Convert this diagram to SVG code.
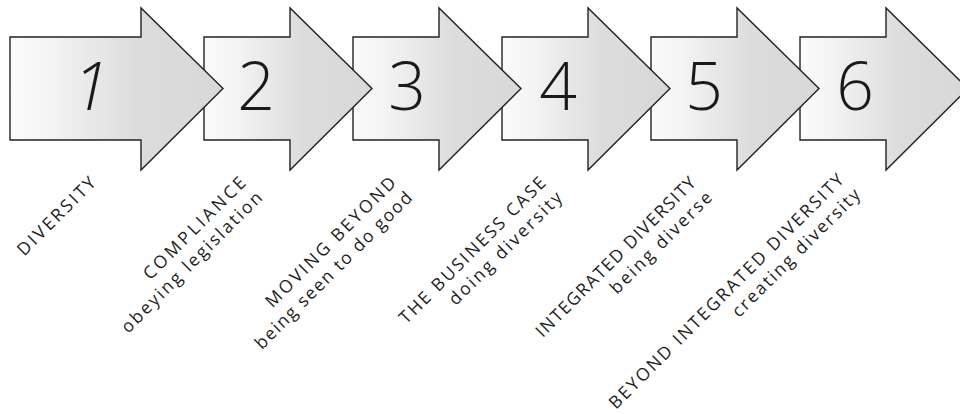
<svg xmlns="http://www.w3.org/2000/svg" width="960" height="414" viewBox="0 0 960 414">
<defs>
<linearGradient id="g" x1="0" y1="0" x2="1" y2="0">
<stop offset="0" stop-color="#fbfbfb"/>
<stop offset="0.2" stop-color="#f3f3f3"/>
<stop offset="0.6" stop-color="#dcdcdc"/>
<stop offset="1" stop-color="#d8d8d8"/>
</linearGradient>
</defs>
<style>
.arrow{fill:url(#g);stroke:#222;stroke-width:1.4;stroke-linejoin:miter}
.num{font-family:"Open Sans","Liberation Sans",sans-serif;font-weight:300;font-size:66px;fill:#1a1a1a;text-anchor:middle}
.lbl{font-family:"Open Sans","Liberation Sans",sans-serif;font-weight:500;font-size:17.5px;fill:#1e1e1e;text-anchor:end}
</style>
<rect width="960" height="414" fill="#fff"/>
<g id="step6">
<polygon class="arrow" points="800,37 886,37 886,8 968,88.5 886,170 886,140 800,140"/>
<text class="num" x="855" y="110">6</text>
<g transform="translate(845,181) rotate(-45)">
<text class="lbl" x="0" y="0" textLength="324" lengthAdjust="spacing">BEYOND INTEGRATED DIVERSITY</text>
<text class="lbl" x="1" y="22" textLength="173" lengthAdjust="spacing">creating diversity</text>
</g>
</g>
<g id="step5">
<polygon class="arrow" points="651,37 737,37 737,8 819,88.5 737,170 737,140 651,140"/>
<text class="num" x="704" y="110">5</text>
<g transform="translate(697,184) rotate(-45)">
<text class="lbl" x="0" y="0" textLength="218" lengthAdjust="spacing">INTEGRATED DIVERSITY</text>
<text class="lbl" x="1" y="22" textLength="136" lengthAdjust="spacing">being diverse</text>
</g>
</g>
<g id="step4">
<polygon class="arrow" points="502,37 588,37 588,8 670,88.5 588,170 588,140 502,140"/>
<text class="num" x="558" y="110">4</text>
<g transform="translate(547,184) rotate(-45)">
<text class="lbl" x="0" y="0" textLength="199" lengthAdjust="spacing">THE BUSINESS CASE</text>
<text class="lbl" x="1" y="22" textLength="152" lengthAdjust="spacing">doing diversity</text>
</g>
</g>
<g id="step3">
<polygon class="arrow" points="353,37 439,37 439,8 521,88.5 439,170 439,140 353,140"/>
<text class="num" x="407" y="110">3</text>
<g transform="translate(397,184) rotate(-45)">
<text class="lbl" x="0" y="0" textLength="176" lengthAdjust="spacing">MOVING BEYOND</text>
<text class="lbl" x="1" y="22" textLength="214" lengthAdjust="spacing">being seen to do good</text>
</g>
</g>
<g id="step2">
<polygon class="arrow" points="204,37 290,37 290,8 372,88.5 290,170 290,140 204,140"/>
<text class="num" x="256" y="110">2</text>
<g transform="translate(247,184) rotate(-45)">
<text class="lbl" x="0" y="0" textLength="137" lengthAdjust="spacing">COMPLIANCE</text>
<text class="lbl" x="1" y="22" textLength="191" lengthAdjust="spacing">obeying legislation</text>
</g>
</g>
<g id="step1">
<polygon class="arrow" points="10,37 141,37 141,8 223,88.5 141,170 141,140 10,140"/>
<text class="num" x="91" y="110" font-style="italic">1</text>
<g transform="translate(97,184) rotate(-45)">
<text class="lbl" x="0" y="0" textLength="103" lengthAdjust="spacing">DIVERSITY</text>
</g>
</g>
</svg>
